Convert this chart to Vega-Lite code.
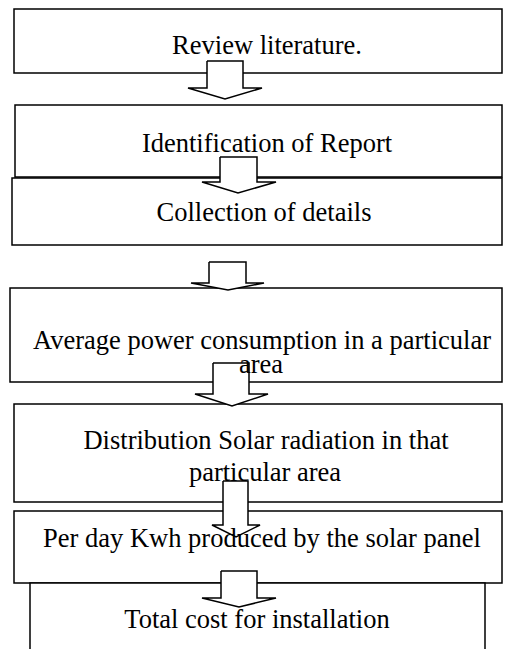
{
  "$schema": "https://vega.github.io/schema/vega-lite/v6.json",
  "width": 508,
  "height": 649,
  "padding": 0,
  "autosize": {"type": "none"},
  "background": "white",
  "config": {"view": {"stroke": null}},
  "datasets": {
    "boxes": [
      {"box": 1, "x1": 14, "x2": 502, "y1": 9, "y2": 73},
      {"box": 2, "x1": 15, "x2": 502, "y1": 105, "y2": 177},
      {"box": 3, "x1": 12, "x2": 502, "y1": 178, "y2": 245},
      {"box": 4, "x1": 10, "x2": 502, "y1": 288, "y2": 382},
      {"box": 5, "x1": 14, "x2": 502, "y1": 404, "y2": 502},
      {"box": 6, "x1": 14, "x2": 502, "y1": 511, "y2": 583},
      {"box": 7, "x1": 30, "x2": 485, "y1": 583, "y2": 665}
    ],
    "arrows": [
      {"arrow": 1, "i": 1, "x": 207, "y": 61}, {"arrow": 1, "i": 2, "x": 243, "y": 61}, {"arrow": 1, "i": 3, "x": 243, "y": 88}, {"arrow": 1, "i": 4, "x": 262, "y": 88}, {"arrow": 1, "i": 5, "x": 225, "y": 99}, {"arrow": 1, "i": 6, "x": 188, "y": 88}, {"arrow": 1, "i": 7, "x": 207, "y": 88}, {"arrow": 1, "i": 8, "x": 207, "y": 61},
      {"arrow": 2, "i": 1, "x": 220, "y": 157}, {"arrow": 2, "i": 2, "x": 257, "y": 157}, {"arrow": 2, "i": 3, "x": 257, "y": 182}, {"arrow": 2, "i": 4, "x": 276, "y": 182}, {"arrow": 2, "i": 5, "x": 238, "y": 193}, {"arrow": 2, "i": 6, "x": 202, "y": 182}, {"arrow": 2, "i": 7, "x": 220, "y": 182}, {"arrow": 2, "i": 8, "x": 220, "y": 157},
      {"arrow": 3, "i": 1, "x": 209, "y": 262}, {"arrow": 3, "i": 2, "x": 246, "y": 262}, {"arrow": 3, "i": 3, "x": 246, "y": 283}, {"arrow": 3, "i": 4, "x": 264, "y": 283}, {"arrow": 3, "i": 5, "x": 228, "y": 290}, {"arrow": 3, "i": 6, "x": 191, "y": 283}, {"arrow": 3, "i": 7, "x": 209, "y": 283}, {"arrow": 3, "i": 8, "x": 209, "y": 262},
      {"arrow": 4, "i": 1, "x": 213, "y": 363}, {"arrow": 4, "i": 2, "x": 249, "y": 363}, {"arrow": 4, "i": 3, "x": 249, "y": 394}, {"arrow": 4, "i": 4, "x": 268, "y": 394}, {"arrow": 4, "i": 5, "x": 232, "y": 406}, {"arrow": 4, "i": 6, "x": 195, "y": 394}, {"arrow": 4, "i": 7, "x": 213, "y": 394}, {"arrow": 4, "i": 8, "x": 213, "y": 363},
      {"arrow": 5, "i": 1, "x": 223, "y": 481}, {"arrow": 5, "i": 2, "x": 248, "y": 481}, {"arrow": 5, "i": 3, "x": 248, "y": 525}, {"arrow": 5, "i": 4, "x": 260, "y": 525}, {"arrow": 5, "i": 5, "x": 236, "y": 537}, {"arrow": 5, "i": 6, "x": 212, "y": 525}, {"arrow": 5, "i": 7, "x": 223, "y": 525}, {"arrow": 5, "i": 8, "x": 223, "y": 481},
      {"arrow": 6, "i": 1, "x": 221, "y": 571}, {"arrow": 6, "i": 2, "x": 257, "y": 571}, {"arrow": 6, "i": 3, "x": 257, "y": 598}, {"arrow": 6, "i": 4, "x": 276, "y": 598}, {"arrow": 6, "i": 5, "x": 239, "y": 607}, {"arrow": 6, "i": 6, "x": 202, "y": 598}, {"arrow": 6, "i": 7, "x": 221, "y": 598}, {"arrow": 6, "i": 8, "x": 221, "y": 571}
    ],
    "labels": [
      {"text": "Review literature.", "x": 267, "y": 54},
      {"text": "Identification of Report", "x": 267, "y": 152},
      {"text": "Collection of details", "x": 264, "y": 221},
      {"text": "Average power consumption in a particular", "x": 262, "y": 349},
      {"text": "area", "x": 261, "y": 373},
      {"text": "Distribution Solar radiation in that", "x": 266, "y": 449},
      {"text": "particular area", "x": 265, "y": 481},
      {"text": "Per day Kwh produced by the solar panel", "x": 262, "y": 547},
      {"text": "Total cost for installation", "x": 257, "y": 628}
    ]
  },
  "encoding": {
    "x": {"type": "quantitative", "scale": {"domain": [0, 508], "nice": false, "zero": false}, "axis": null},
    "y": {"type": "quantitative", "scale": {"domain": [0, 649], "nice": false, "zero": false, "reverse": true}, "axis": null}
  },
  "layer": [
    {
      "data": {"name": "boxes"},
      "mark": {"type": "rect", "fill": "white", "stroke": "black", "strokeWidth": 1.5, "clip": true},
      "encoding": {
        "x": {"field": "x1", "type": "quantitative"},
        "x2": {"field": "x2"},
        "y": {"field": "y1", "type": "quantitative"},
        "y2": {"field": "y2"}
      }
    },
    {
      "data": {"name": "arrows"},
      "mark": {"type": "line", "fill": "white", "stroke": "black", "strokeWidth": 1.5, "strokeJoin": "miter"},
      "encoding": {
        "x": {"field": "x", "type": "quantitative"},
        "y": {"field": "y", "type": "quantitative"},
        "detail": {"field": "arrow", "type": "nominal"},
        "order": {"field": "i", "type": "quantitative"}
      }
    },
    {
      "data": {"name": "labels"},
      "mark": {"type": "text", "font": "Liberation Serif", "fontSize": 26.5, "align": "center", "baseline": "alphabetic", "color": "black"},
      "encoding": {
        "x": {"field": "x", "type": "quantitative"},
        "y": {"field": "y", "type": "quantitative"},
        "text": {"field": "text"}
      }
    }
  ]
}
